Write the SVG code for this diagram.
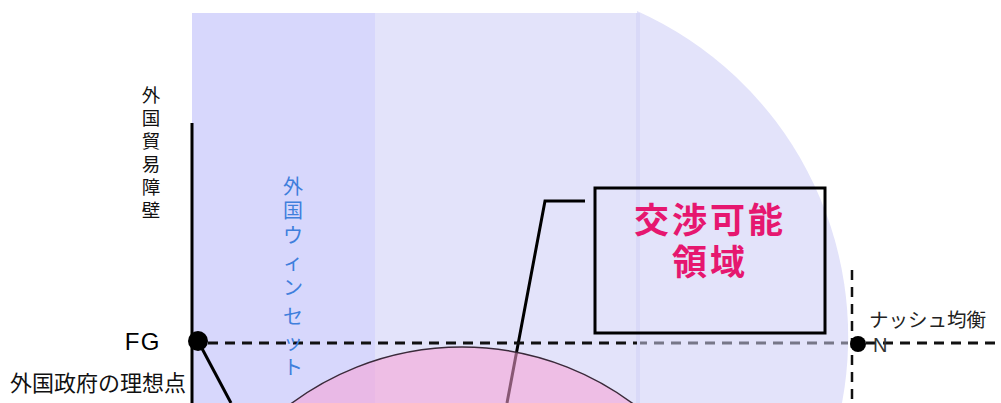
<svg xmlns="http://www.w3.org/2000/svg" width="1001" height="403" viewBox="0 0 1001 403">
<style>
.jp{font-family:"Liberation Sans","Noto Sans CJK JP",sans-serif;}
.vblack{font-size:18.5px;fill:#111;text-anchor:middle;}
.vblue{font-size:20px;fill:#3f7fdc;text-anchor:middle;}
.dash{stroke-width:3;stroke-dasharray:10 7;fill:none;}
</style>
<rect width="1001" height="403" fill="#ffffff"/>
<g id="background">
<rect x="192" y="13" width="183" height="390" fill="#d7d7fc"/>
<rect x="375" y="13" width="264" height="390" fill="#e3e3fa"/>
<path d="M637,11 A357,357 0 0 1 842,403 L637,403 Z" fill="#e3e3fa"/>
<rect x="636" y="13" width="4" height="390" fill="#d9d9f8"/>
</g>
<g id="connectors" fill="none" stroke="#000">
<line x1="192" y1="123" x2="192" y2="403" stroke-width="3"/>
<line x1="198" y1="341" x2="231" y2="403" stroke-width="3"/>
<polyline points="585,201 545,201 507,403" stroke-width="3"/>
<line class="dash" x1="208" y1="343" x2="637" y2="343" stroke="#111"/>
<line class="dash" x1="640" y1="343" x2="848" y2="343" stroke="#777788" stroke-dashoffset="3"/>
<line class="dash" x1="866" y1="343" x2="1001" y2="343" stroke="#111"/>
<line x1="852" y1="270" x2="852" y2="403" stroke="#111" stroke-width="2.5" stroke-dasharray="10 7"/>
</g>
<g id="zone">
<circle cx="462" cy="633" r="286" fill="#f7a0d4" fill-opacity="0.55" stroke="#3a2a3a" stroke-width="1.5"/>
</g>
<g id="FG">
<circle cx="198" cy="341" r="10" fill="#000"/>
<text class="jp" x="161" y="350" font-size="24" text-anchor="end" letter-spacing="1.5" fill="#000">FG</text>
<text class="jp" x="10" y="391" font-size="22" fill="#111">外国政府の理想点</text>
</g>
<g id="N">
<circle cx="858" cy="344" r="8" fill="#000"/>
<text class="jp" x="873" y="352" font-size="20" fill="#333">N</text>
<text class="jp" x="869" y="327" font-size="19.5" fill="#222">ナッシュ均衡</text>
</g>
<g id="barrier-label" class="jp vblack">
<text x="151" y="102">外</text>
<text x="151" y="125">国</text>
<text x="151" y="148">貿</text>
<text x="151" y="171">易</text>
<text x="151" y="194">障</text>
<text x="151" y="217">壁</text>
</g>
<g id="winset-label" class="jp vblue">
<text x="293" y="194">外</text>
<text x="293" y="218">国</text>
<text x="293" y="243">ウ</text>
<text x="293" y="270">ィ</text>
<text x="293" y="295">ン</text>
<text x="293" y="324">セ</text>
<text x="293" y="350">ッ</text>
<text x="293" y="375">ト</text>
</g>
<g id="callout">
<rect x="595" y="188" width="230" height="145" fill="none" stroke="#000" stroke-width="3"/>
<text class="jp" x="710" y="233" font-size="35" font-weight="bold" text-anchor="middle" letter-spacing="3" fill="#e6176f">交渉可能</text>
<text class="jp" x="710" y="275" font-size="35" font-weight="bold" text-anchor="middle" letter-spacing="3" fill="#e6176f">領域</text>
</g>
</svg>
